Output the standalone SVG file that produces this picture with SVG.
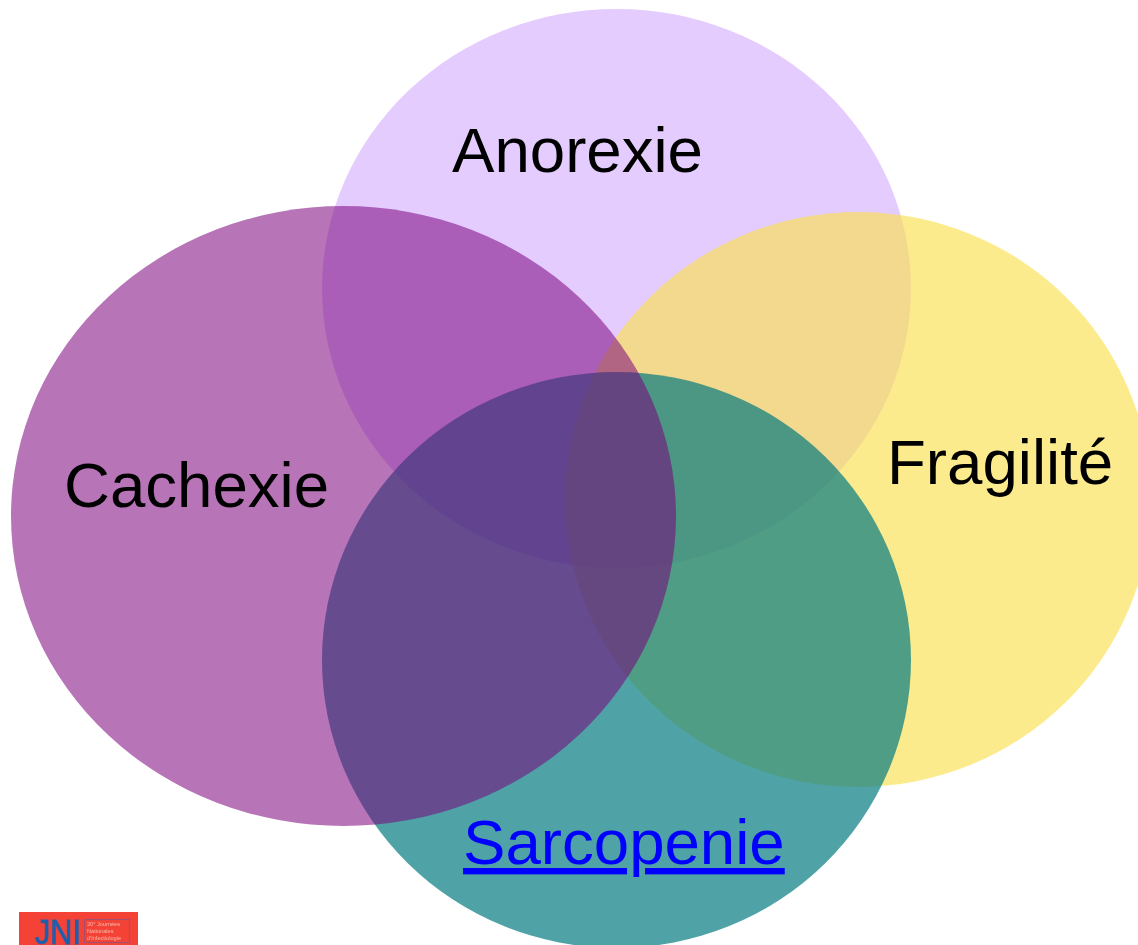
<svg xmlns="http://www.w3.org/2000/svg" width="1138" height="945" viewBox="0 0 1138 945">
<style>
.l{font-family:"Liberation Sans",Arial,sans-serif;font-size:63.6px;fill:#000}
.s{font-family:"Liberation Sans",Arial,sans-serif;font-size:5.6px;fill:#F9B8A8}
</style>
<defs><filter id="b" x="-5%" y="-5%" width="110%" height="110%"><feGaussianBlur stdDeviation="0.7"/></filter></defs>
<rect width="1138" height="945" fill="#fff"/>
<g id="anorexie"><ellipse cx="616.5" cy="288.5" rx="294.5" ry="279.5" fill="#E5CCFF"/></g>
<g id="fragilite"><ellipse cx="858" cy="499.5" rx="293" ry="287.5" fill="#FAE050" fill-opacity=".65"/></g>
<g id="sarcopenie"><ellipse cx="616.500" cy="660" rx="294.5" ry="288" fill="#007980" fill-opacity=".69"/></g>
<g id="cachexie"><ellipse cx="343.5" cy="516" rx="332.5" ry="310" fill="#7A007C" fill-opacity=".54"/></g>
<text class="l" x="452" y="172">Anorexie</text>
<text class="l" x="64" y="507">Cachexie</text>
<text class="l" x="887" y="484">Fragilité</text>
<text class="l" x="463" y="864" style="fill:#0000FF;text-decoration:underline">Sarcopenie</text>
<g id="logo"><rect x="19" y="912" width="119" height="33" fill="#F44336"/>
<g filter="url(#b)">
<text transform="translate(35 944) scale(.85 1)" font-family="Liberation Sans,sans-serif" font-size="36" fill="#1F5FAE" stroke="#1F5FAE" stroke-width=".9">JNI</text>
<rect x="84.500" y="919.500" width="45" height="23" fill="none" stroke="#A4506E" stroke-width="1.2"/>
<text class="s" x="87" y="925.500">30° Journées</text>
<text class="s" x="87" y="932.500">Nationales</text>
<text class="s" x="87" y="939.500">d'Infectiologie</text>
</g></g>
</svg>
